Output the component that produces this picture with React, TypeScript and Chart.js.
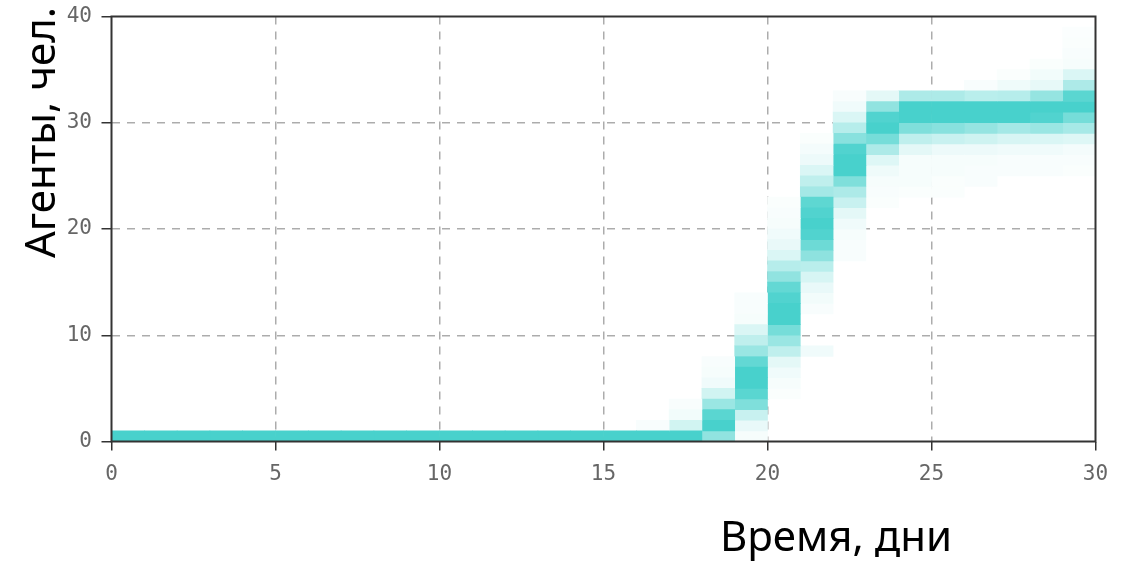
import { useEffect, useRef } from "react";
import { Chart, registerables } from "chart.js";

Chart.register(...registerables);

// Day columns (each column spans [day, day + 1])
const days = [0, 1, 2, 3, 4, 5, 6, 7, 8, 9, 10, 11, 12, 13, 14, 15, 16, 17, 18, 19, 20, 21, 22, 23, 24, 25, 26, 27, 28, 29];

// Lowest agent-count row drawn for each day
const baseRows = [0, 0, 0, 0, 0, 0, 0, 0, 0, 0, 0, 0, 0, 0, 0, 0, 0, 0, 0, 0, 4, 8, 17, 22, 23, 23, 24, 25, 25, 25];

// Relative frequency (0..1) of each agent count, starting at baseRows[day] and going up by 1
const shades: number[][] = [
  [1], [1], [1], [1], [1], [1], [1], [1], [1], [1],
  [1], [1], [1], [1], [1], [1],
  [1, 0.04],
  [1, 0.25, 0.07, 0.04],
  [0.6, 1, 0.9, 0.55, 0.25, 0.08, 0.05, 0.04],
  [0.05, 0.12, 0.3, 0.7, 0.9, 1, 1, 0.85, 0.55, 0.35, 0.2, 0.05, 0.04, 0.04],
  [0.03, 0.05, 0.08, 0.15, 0.35, 0.55, 0.75, 1, 1, 0.95, 0.85, 0.6, 0.4, 0.2, 0.12, 0.08, 0.05, 0.04, 0.03],
  [0.08, 0, 0, 0, 0.04, 0.07, 0.12, 0.22, 0.38, 0.62, 0.8, 0.95, 1, 0.95, 0.88, 0.5, 0.35, 0.2, 0.1, 0.06, 0.03],
  [0.04, 0.04, 0.05, 0.08, 0.15, 0.3, 0.45, 0.7, 1, 1, 0.95, 0.65, 0.4, 0.2, 0.08, 0.04],
  [0.03, 0.04, 0.05, 0.09, 0.18, 0.45, 0.75, 1, 0.95, 0.6, 0.15],
  [0.03, 0.05, 0.05, 0.05, 0.15, 0.35, 0.7, 1, 1, 0.45],
  [0.03, 0.03, 0.05, 0.05, 0.1, 0.3, 0.65, 1, 1, 0.45],
  [0.04, 0.04, 0.05, 0.1, 0.27, 0.58, 1, 1, 0.38, 0.04],
  [0.04, 0.04, 0.08, 0.22, 0.5, 1, 1, 0.4, 0.09, 0.03],
  [0.04, 0.04, 0.08, 0.2, 0.55, 0.95, 1, 0.58, 0.13, 0.07, 0.03],
  [0.03, 0.04, 0.06, 0.18, 0.48, 0.75, 1, 0.9, 0.45, 0.2, 0.05, 0.04, 0.03, 0.02],
];

const xTicks = [0, 5, 10, 15, 20, 25, 30];
const yTicks = [0, 10, 20, 30, 40];
const xTitle = "Время, дни";
const yTitle = "Агенты, чел.";

const BASE = [72, 209, 204]; // mediumturquoise

function shadeColor(a: number): string {
  const c = BASE.map((v) => Math.round(255 - a * (255 - v)));
  return `rgb(${c[0]},${c[1]},${c[2]})`;
}

const frameAndTitles = {
  id: "frameAndTitles",
  afterDraw(chart: any) {
    const { ctx, chartArea } = chart;
    ctx.save();
    ctx.strokeStyle = "#333";
    ctx.lineWidth = 2;
    ctx.strokeRect(chartArea.left, chartArea.top, chartArea.right - chartArea.left, chartArea.bottom - chartArea.top);
    ctx.fillStyle = "#000";
    ctx.font = '42px "Noto Sans"';
    ctx.textAlign = "center";
    ctx.textBaseline = "alphabetic";
    ctx.fillText(xTitle, 836, 551);
    ctx.translate(55, 132.5);
    ctx.rotate(-Math.PI / 2);
    ctx.fillText(yTitle, 0, 0);
    ctx.restore();
  },
};

export default function App() {
  const ref = useRef<HTMLCanvasElement | null>(null);

  useEffect(() => {
    if (!ref.current) return;
    const datasets = days.map((d, di) => {
      const cells: { r: number; a: number }[] = [];
      shades[di].forEach((a, i) => {
        if (a > 0) cells.push({ r: baseRows[di] + i, a });
      });
      // draw paler cells first so darker ones stay crisp where edges touch
      cells.sort((p, q) => p.a - q.a);
      return {
        label: "day " + d,
        data: cells.map((c) => ({ x: d + 0.5, y: [c.r, c.r + 1] })),
        backgroundColor: cells.map((c) => shadeColor(c.a)),
        borderWidth: 0,
        grouped: false,
        barPercentage: 1,
        categoryPercentage: 1,
      };
    });

    const gridColor = (ctx: any) => {
      const v = ctx.tick ? ctx.tick.value : null;
      return v === 0 || (v === 30 && ctx.scale.axis === "x") || v === 40 ? "rgba(0,0,0,0)" : "rgba(70,70,70,0.45)";
    };

    const tickFont = { family: '"DejaVu Sans Mono"', size: 21 };

    const chart = new Chart(ref.current, {
      type: "bar",
      data: { datasets },
      plugins: [frameAndTitles],
      options: {
        responsive: false,
        animation: false,
        devicePixelRatio: 1,
        layout: { padding: { top: 16.5, right: 44.5, left: 0, bottom: 0 } },
        plugins: { legend: { display: false }, tooltip: { enabled: false } },
        scales: {
          x: {
            type: "linear",
            z: 1,
            min: xTicks[0],
            max: xTicks[xTicks.length - 1],
            offset: false,
            afterFit: (s: any) => {
              s.height = 121.5;
              s.paddingLeft = 0;
              s.paddingRight = 0;
            },
            afterBuildTicks: (s: any) => { s.ticks = xTicks.map((v) => ({ value: v })); },
            ticks: { color: "#666", font: tickFont, padding: 11, maxRotation: 0, autoSkip: false },
            grid: { offset: false, color: gridColor, lineWidth: 1.5, tickColor: "#333", tickLength: 9, tickWidth: 1.5 },
            border: { display: false, dash: [8, 7] },
          },
          y: {
            type: "linear",
            z: 1,
            min: yTicks[0],
            max: yTicks[yTicks.length - 1],
            afterFit: (s: any) => {
              s.width = 111.5;
              s.paddingTop = 0;
              s.paddingBottom = 0;
            },
            afterBuildTicks: (s: any) => { s.ticks = yTicks.map((v) => ({ value: v })); },
            ticks: { color: "#666", font: tickFont, padding: 9.5 },
            grid: { color: gridColor, lineWidth: 1.5, tickColor: "#333", tickLength: 10, tickWidth: 1.5 },
            border: { display: false, dash: [8, 7] },
          },
        },
      } as any,
    });
    return () => chart.destroy();
  }, []);

  return (
    <div style={{ position: "absolute", left: 0, top: 0, width: 1140, height: 563, background: "#fff" }}>
      <canvas ref={ref} width={1140} height={563} style={{ display: "block" }} />
    </div>
  );
}
